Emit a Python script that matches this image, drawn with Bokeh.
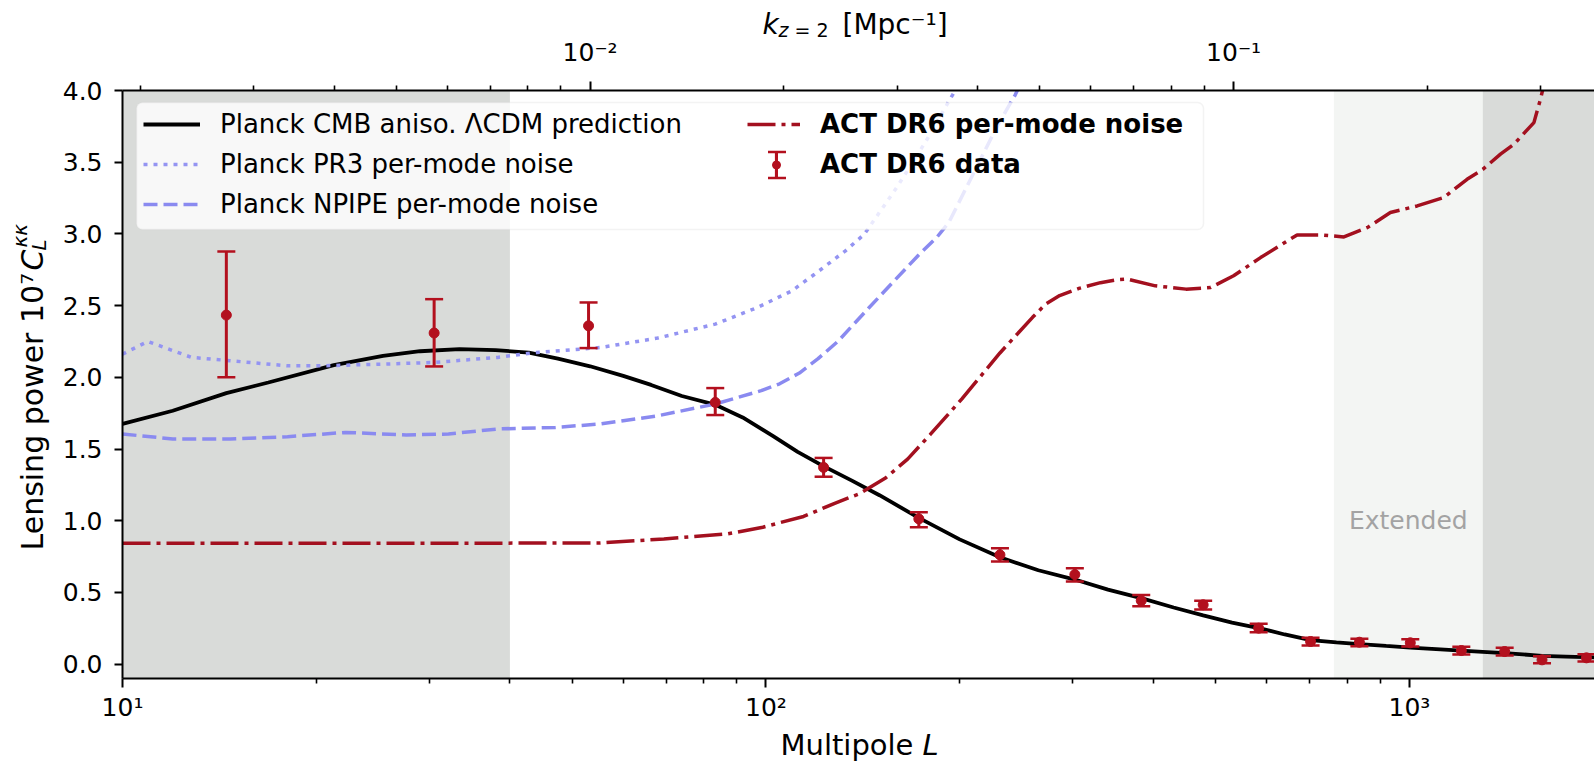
import math
from bokeh.plotting import figure
from bokeh.core.properties import value
from bokeh.models import (BoxAnnotation, ColumnDataSource, FixedTicker, Label, Legend,
                          LegendItem, LogAxis, LogScale, PrintfTickFormatter, Range1d)
from bokeh.embed import file_html
from bokeh.resources import INLINE

# ---------------------------------------------------------------- data --
# Planck CMB-anisotropy LCDM prediction, 1e7 * C_L^{kk}
theory_L = [10, 11.97, 14.5, 16.85, 21.3, 25.4, 29.0, 33.4, 38.0, 42.8, 47.5, 53.3,
            60, 66.3, 74, 83.3, 92, 102.6, 112, 122.4, 136, 150.1, 172.8, 200, 231, 265,
            302, 340, 383, 430, 478, 530, 586, 640, 702, 770, 836, 920, 1003, 1100, 1204,
            1300, 1406, 1500, 1607, 1750, 1939]
theory_cl = [1.675, 1.767, 1.89, 1.964, 2.085, 2.150, 2.182, 2.197, 2.19, 2.172, 2.13, 2.077,
             2.01, 1.947, 1.87, 1.81, 1.72, 1.59, 1.48, 1.384, 1.28, 1.178, 1.02, 0.87, 0.745,
             0.655, 0.59, 0.52, 0.46, 0.395, 0.34, 0.29, 0.25, 0.207, 0.168, 0.152, 0.14,
             0.127, 0.116, 0.105, 0.094, 0.086, 0.077, 0.068, 0.058, 0.053, 0.047]

# Planck PR3 per-mode reconstruction noise
pr3_L = [10, 10.95, 12.8, 14.7, 18.05, 20.7, 25.4, 30.5, 38.3, 44.0, 55.4, 67.9, 83.4,
         97.0, 109.7, 119, 132.9, 142.2, 160, 178, 195, 205]
pr3_nl = [2.162, 2.25, 2.139, 2.116, 2.08, 2.081, 2.092, 2.104, 2.139, 2.173, 2.208, 2.274,
          2.371, 2.487, 2.603, 2.719, 2.882, 2.998, 3.33, 3.66, 3.97, 4.15]

# Planck NPIPE per-mode reconstruction noise
npipe_L = [10, 11.97, 14.7, 18.05, 22.2, 27.6, 32.1, 38.3, 47.1, 55.4, 67.9, 83.4, 98.3,
           105, 112.7, 120.5, 129.3, 144.2, 158.8, 172.4, 184.6, 192.4, 210, 228, 244, 255]
npipe_nl = [1.605, 1.57, 1.57, 1.586, 1.616, 1.598, 1.605, 1.64, 1.651, 1.675, 1.732, 1.814,
            1.907, 1.955, 2.03, 2.13, 2.25, 2.48, 2.68, 2.85, 2.98, 3.08, 3.42, 3.74, 3.97,
            4.15]

# ACT DR6 per-mode reconstruction noise
actn_L = [10, 30, 55.3, 69.4, 87.1, 98.9, 114.4, 127.6, 140, 153.6, 166, 179.9, 201.6, 231,
          259.8, 272, 286, 306.4, 331, 351.3, 364, 402.8, 449.5, 491, 533, 587, 669, 727,
          791, 860, 934, 1028, 1130, 1229, 1300, 1385, 1453, 1561, 1598, 1640]
actn_nl = [0.843, 0.843, 0.845, 0.873, 0.908, 0.955, 1.03, 1.12, 1.19, 1.30, 1.43, 1.60,
           1.85, 2.17, 2.42, 2.51, 2.57, 2.62, 2.66, 2.68, 2.685, 2.638, 2.615, 2.626, 2.708,
           2.835, 2.993, 2.993, 2.979, 3.044, 3.149, 3.195, 3.253, 3.381, 3.45, 3.556,
           3.625, 3.776, 3.939, 4.15]

# ACT DR6 lensing bandpowers with 1-sigma limits
act_L = [14.5, 30.5, 53.0, 83.4, 122.9, 172.8, 231, 302, 383, 478, 583, 702, 836, 1003,
         1204, 1406, 1607, 1884]
act_cl = [2.434, 2.309, 2.359, 1.825, 1.372, 1.013, 0.762, 0.625, 0.443, 0.414, 0.251,
          0.158, 0.153, 0.149, 0.095, 0.088, 0.030, 0.044]
act_lo = [2.00, 2.076, 2.204, 1.737, 1.307, 0.954, 0.715, 0.576, 0.404, 0.381, 0.223,
          0.130, 0.125, 0.123, 0.067, 0.060, 0.006, 0.019]
act_hi = [2.877, 2.545, 2.522, 1.925, 1.438, 1.059, 0.808, 0.668, 0.483, 0.443, 0.281,
          0.184, 0.177, 0.174, 0.121, 0.114, 0.055, 0.069]

# multipole ranges: baseline 40-763, extended up to 1300
baseline_range = [40, 763]
extended_max = 1300

# axes
L_range = [10, 1939]
cl_range = [-0.1, 4.0]
chi_z2 = 5330.0            # Mpc, k = L / chi(z=2)
L_major = [10, 100, 1000]
L_minor = [20, 30, 40, 50, 60, 70, 80, 90, 200, 300, 400, 500, 600, 700, 800, 900]
L_labels = ["10¹", "10²", "10³"]
k_major = [0.01, 0.1]
k_minor = [0.002, 0.003, 0.004, 0.005, 0.006, 0.007, 0.008, 0.009,
           0.02, 0.03, 0.04, 0.05, 0.06, 0.07, 0.08, 0.09, 0.2, 0.3]
k_labels = ["10⁻²", "10⁻¹"]
cl_ticks = [0.0, 0.5, 1.0, 1.5, 2.0, 2.5, 3.0, 3.5, 4.0]

# ------------------------------------------------------------- styling --
FONT = "DejaVu Sans"
BLACK = "#000000"
RED_LINE = "#a3101f"
RED_PTS = "#b3101e"
BLUE_DOT = "#9494f2"
BLUE_DASH = "#8a8af0"
GREY_DARK = "#d9dbd9"
GREY_LIGHT = "#f3f5f3"

W, H = 1594, 764
FRAME_L, FRAME_R, FRAME_T, FRAME_B = 122, 1594, 90, 678

p = figure(width=W, height=H, x_axis_type="log",
           x_range=Range1d(*L_range), y_range=Range1d(*cl_range),
           output_backend="svg", toolbar_location=None,
           min_border_left=FRAME_L, min_border_right=W - FRAME_R,
           min_border_top=FRAME_T, min_border_bottom=H - FRAME_B)
p.outline_line_color = None
p.grid.visible = False
p.background_fill_color = "white"
p.border_fill_color = "white"

x_axis = p.below[0]
y_axis = p.left[0]

# k axis on top
p.extra_x_ranges = {"k": Range1d(L_range[0] / chi_z2, L_range[1] / chi_z2)}
p.extra_x_scales = {"k": LogScale()}
k_axis = LogAxis(x_range_name="k", ticker=FixedTicker(ticks=k_major, minor_ticks=k_minor))
k_axis.major_label_overrides = dict(zip(k_major, k_labels))
p.add_layout(k_axis, "above")

x_axis.ticker = FixedTicker(ticks=L_major, minor_ticks=L_minor)
x_axis.major_label_overrides = dict(zip(L_major, L_labels))

y_axis.ticker = FixedTicker(ticks=cl_ticks)
y_axis.formatter = PrintfTickFormatter(format="%.1f")

for ax in (x_axis, k_axis, y_axis):
    ax.axis_line_color = BLACK
    ax.axis_line_width = 2
    ax.major_tick_line_color = BLACK
    ax.major_tick_line_width = 2
    ax.minor_tick_line_color = BLACK
    ax.minor_tick_line_width = 1.6
    ax.major_tick_in = 0
    ax.minor_tick_in = 0
    ax.major_tick_out = 9
    ax.minor_tick_out = 5
    ax.major_label_text_font = FONT
    ax.major_label_text_font_size = "25px"
    ax.major_label_text_color = BLACK
y_axis.minor_tick_line_color = None
y_axis.major_tick_out = 8
x_axis.major_label_standoff = 5
k_axis.major_label_standoff = 15
y_axis.major_label_standoff = 12

# shaded multipole ranges
for lo, hi, col in [(L_range[0], baseline_range[0], GREY_DARK),
                    (baseline_range[1], extended_max, GREY_LIGHT),
                    (extended_max, L_range[1], GREY_DARK)]:
    p.add_layout(BoxAnnotation(left=lo, right=hi, fill_color=col, fill_alpha=1.0,
                               line_color=None, level="underlay"))

p.add_layout(Label(x=math.sqrt(baseline_range[1] * extended_max), y=1.0, text="Extended",
                   text_font=FONT, text_font_size="25px", text_color="#a3a3a3",
                   text_align="center", text_baseline="middle"))

# curves
r_theory = p.line(theory_L, theory_cl, line_color=BLACK, line_width=3.8)
r_pr3 = p.line(pr3_L, pr3_nl, line_color=BLUE_DOT, line_width=3.5, line_dash="4 6")
r_npipe = p.line(npipe_L, npipe_nl, line_color=BLUE_DASH, line_width=3.5, line_dash="14 6")
r_actn = p.line(actn_L, actn_nl, line_color=RED_LINE, line_width=3.5, line_dash="28 6 4 6")

# bandpowers with error bars
src = ColumnDataSource(dict(
    L=act_L, cl=act_cl, lo=act_lo, hi=act_hi,
    mid=[(a + b) / 2 for a, b in zip(act_lo, act_hi)],
    span=[b - a for a, b in zip(act_lo, act_hi)]))
r_stem = p.rect(x="L", y="mid", width=3, width_units="screen", height="span", source=src,
                fill_color=RED_PTS, line_color=None)
r_cap_lo = p.scatter(x="L", y="lo", source=src, marker="dash", size=18,
                     line_color=RED_PTS, line_width=2.5)
r_cap_hi = p.scatter(x="L", y="hi", source=src, marker="dash", size=18,
                     line_color=RED_PTS, line_width=2.5)
r_pts = p.scatter(x="L", y="cl", source=src, marker="circle", size=10,
                  fill_color=RED_PTS, line_color=RED_PTS)

# legend frame
p.add_layout(BoxAnnotation(left=136, right=1203, top=102, bottom=229,
                           left_units="canvas", right_units="canvas",
                           top_units="canvas", bottom_units="canvas",
                           fill_color="white", fill_alpha=0.8, line_color="#d6d6d6",
                           line_width=1.5, border_radius=6))

leg_common = dict(padding=0, margin=0, border_line_color=None, background_fill_alpha=0,
                  label_text_font=FONT, label_text_font_size="26px", label_text_color=BLACK)


def legend_at(items, left, top, glyph_w, glyph_h, **kw):
    """Legend whose first glyph box has its top-left corner at canvas (left, top)."""
    n = len(items)
    spacing = kw.pop("spacing", 4)
    height = n * glyph_h + (n - 1) * spacing
    leg = Legend(items=items, location=(left - FRAME_L, FRAME_B - (top + height)),
                 glyph_width=glyph_w, glyph_height=glyph_h, label_height=glyph_h,
                 spacing=spacing, **leg_common, **kw)
    p.add_layout(leg, "center")
    return leg


legend_at([LegendItem(label="Planck CMB aniso. ΛCDM prediction", renderers=[r_theory]),
           LegendItem(label="Planck PR3 per-mode noise", renderers=[r_pr3]),
           LegendItem(label="Planck NPIPE per-mode noise", renderers=[r_npipe])],
          143, 106, 57, 36, label_standoff=20)
legend_at([LegendItem(label="ACT DR6 per-mode noise", renderers=[r_actn])],
          747, 106, 53, 36, label_standoff=20, label_text_font_style="bold")

# error-bar key: stem, caps and marker share one centre
key_x, key_y = 776, 164
legend_at([LegendItem(label=" ", renderers=[r_stem])],
          key_x - 2, key_y - 16.5, 4, 33, label_standoff=0, label_text_alpha=0)
legend_at([LegendItem(label=" ", renderers=[r_cap_hi])],
          key_x - 22.5, key_y - 13 - 22.5, 45, 45, label_standoff=0, label_text_alpha=0)
legend_at([LegendItem(label=" ", renderers=[r_cap_lo])],
          key_x - 22.5, key_y + 13 - 22.5, 45, 45, label_standoff=0, label_text_alpha=0)
legend_at([LegendItem(label="ACT DR6 data", renderers=[r_pts])],
          key_x - 10, key_y - 17.5, 20, 35, label_standoff=34, label_text_font_style="bold")


# axis titles, placed by canvas pixel and drawn above the frame clip
def px_to_L(x):
    lo, hi = math.log10(L_range[0]), math.log10(L_range[1])
    return 10 ** (lo + (x - FRAME_L) / (FRAME_R - FRAME_L) * (hi - lo))


def px_to_cl(y):
    return cl_range[1] - (y - FRAME_T) / (FRAME_B - FRAME_T) * (cl_range[1] - cl_range[0])


def title_text(x, y, text, size, style="normal", angle=0.0):
    p.text(x=[px_to_L(x)], y=[px_to_cl(y)], text=[text], angle=angle,
           text_font=value(FONT), text_font_size=value(size), text_font_style=value(style),
           text_color=BLACK, text_align="left", text_baseline="alphabetic", level="overlay")


title_text(780, 744, "Multipole", "29px")
title_text(922, 744, "L", "29px", "italic")

title_text(762, 24, "k", "28px", "italic")
title_text(778, 29, "z", "19px", "italic")
title_text(794, 29, "= 2", "19px")
title_text(842, 24, "[Mpc⁻¹]", "28px")

up = math.pi / 2
title_text(32, 550, "Lensing power 10⁷", "30px", angle=up)
title_text(32, 270, "C", "30px", "italic", angle=up)
title_text(38, 250, "L", "20px", "italic", angle=up)
title_text(19, 247, "κκ", "20px", "italic", angle=up)

open("out.html", "w").write(file_html(p, INLINE))
